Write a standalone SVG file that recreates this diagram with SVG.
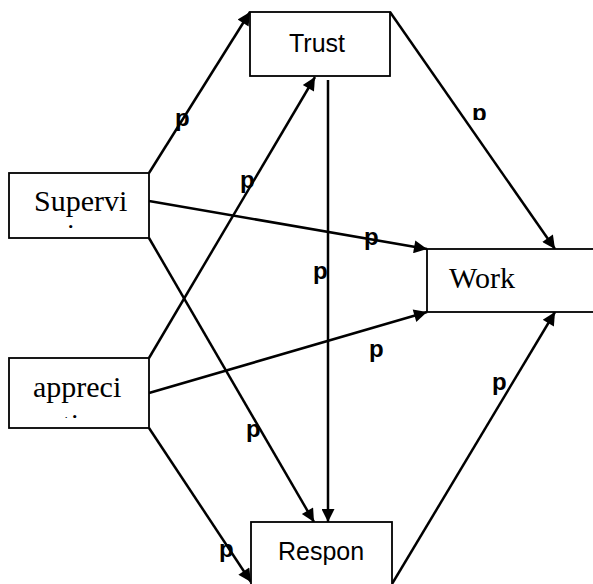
<svg xmlns="http://www.w3.org/2000/svg" width="593" height="584" viewBox="0 0 593 584">
<style>
.box{fill:#fff;stroke:#000;stroke-width:1.8}
.edge{stroke:#000;stroke-width:2.5;fill:none}
.sans{font-family:"Liberation Sans",Arial,sans-serif;font-size:25px;fill:#000}
.serif{font-family:"Liberation Serif","Times New Roman",serif;font-size:30px;fill:#000}
.lbl{font-family:"Liberation Sans",Arial,sans-serif;font-size:24px;font-weight:bold;fill:#000}
</style>
<defs>
<marker id="ah" viewBox="0 0 10 10" refX="10" refY="5" markerWidth="6.4" markerHeight="5.2" markerUnits="strokeWidth" orient="auto">
<path d="M0,0 L10,5 L0,10 z" fill="#000"/>
</marker>
<clipPath id="c1"><rect x="0" y="0" width="593" height="228"/></clipPath>
<clipPath id="c2"><rect x="0" y="0" width="593" height="418"/></clipPath>
<clipPath id="c3"><rect x="0" y="0" width="593" height="120"/></clipPath>
</defs>
<g id="connectors">
<line class="edge" x1="149" y1="173" x2="250" y2="12" marker-end="url(#ah)"/>
<line class="edge" x1="149" y1="358" x2="315" y2="77" marker-end="url(#ah)"/>
<line class="edge" x1="328" y1="80" x2="328" y2="522" marker-end="url(#ah)"/>
<line class="edge" x1="390" y1="12" x2="555" y2="249" marker-end="url(#ah)"/>
<line class="edge" x1="149" y1="201" x2="427" y2="249" marker-end="url(#ah)"/>
<line class="edge" x1="149" y1="238" x2="314" y2="522" marker-end="url(#ah)"/>
<line class="edge" x1="149" y1="393" x2="427" y2="312" marker-end="url(#ah)"/>
<line class="edge" x1="149" y1="428" x2="251" y2="582" marker-end="url(#ah)"/>
<line class="edge" x1="392" y1="584" x2="555" y2="312" marker-end="url(#ah)"/>
<text class="lbl" x="175" y="126">p</text>
<text class="lbl" x="240" y="188">p</text>
<text class="lbl" x="364" y="245">p</text>
<text class="lbl" x="313" y="279">p</text>
<text class="lbl" x="369" y="357">p</text>
<text class="lbl" x="472" y="121" clip-path="url(#c3)">p</text>
<text class="lbl" x="246" y="437">p</text>
<text class="lbl" x="219" y="557">p</text>
<text class="lbl" x="492" y="390">p</text>
</g>
<g id="trust">
<rect class="box" x="250" y="12" width="140" height="64"/>
<text class="sans" x="289" y="52">Trust</text>
</g>
<g id="supervision">
<rect class="box" x="9" y="173" width="140" height="65"/>
<text class="serif" x="34" y="211">Supervi</text>
<text class="serif" x="55" y="244" clip-path="url(#c1)">sion</text>
</g>
<g id="appreciation">
<rect class="box" x="9" y="358" width="140" height="70"/>
<text class="serif" x="33" y="397">appreci</text>
<text class="serif" x="49" y="434" clip-path="url(#c2)">ation</text>
</g>
<g id="work">
<rect class="box" x="427" y="249" width="180" height="63"/>
<text class="serif" x="449" y="288">Work</text>
</g>
<g id="respon">
<rect class="box" x="251" y="522" width="141" height="80"/>
<text class="sans" x="278" y="560">Respon</text>
</g>
</svg>
